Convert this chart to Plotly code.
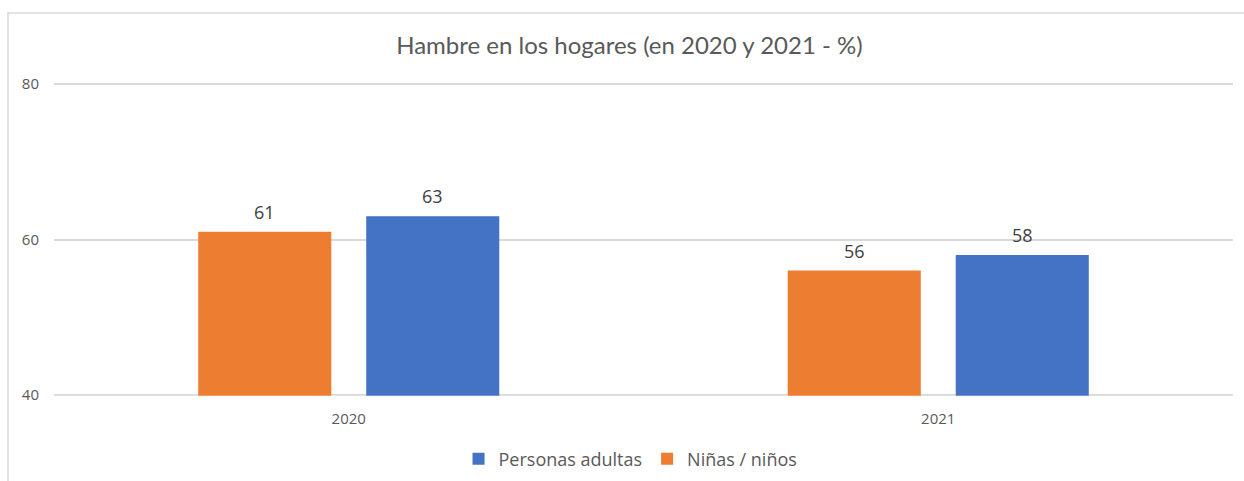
import plotly.graph_objects as go

years = ["2020", "2021"]
ninos = [61, 56]
adultos = [63, 58]
series_names = ["Niñas / niños", "Personas adultas"]
colors = ["#ED7D31", "#4472C4"]
y_ticks = [40, 60, 80]
y_range = [39.6, 80.4]

W, H = 1244, 481
ml, mr, mt, mb = 54, 11, 81, 83
pw, ph = W - ml - mr, H - mt - mb

fig = go.Figure()
offsets = [-84, 84]
for name, vals, col, off in zip(series_names, [ninos, adultos], colors, offsets):
    fig.add_trace(go.Bar(
        x=years, y=vals, name=name, marker=dict(color=col, line=dict(width=0)),
        hoverinfo="none",
    ))
    for i, v in enumerate(vals):
        fig.add_annotation(x=i, y=v, xref="x", yref="y", text=str(v), showarrow=False, xshift=off,
                           yanchor="bottom", yshift=6,
                           font=dict(family="Open Sans, sans-serif", size=18, color="#404040"))

# mask bar parts below the axis minimum (bars start at the 40 line)
fig.add_shape(type="rect", xref="paper", yref="y", x0=0, x1=1,
              y0=y_range[0] - 1, y1=min(y_ticks) - 0.1,
              fillcolor="white", line=dict(width=0), layer="above")

# outer chart border (left/top visible)
bx0 = (8 - ml) / pw
by1 = (H - 13 - mb) / ph
fig.add_shape(type="rect", xref="paper", yref="paper",
              x0=bx0, x1=(W + 20 - ml) / pw, y0=(-40 - mb) / ph, y1=by1,
              line=dict(color="#d9d9d9", width=1.5), layer="below")

fig.update_layout(
    width=W, height=H, margin=dict(l=ml, r=mr, t=mt, b=mb, autoexpand=False),
    paper_bgcolor="white", plot_bgcolor="white",
    title=dict(text="Hambre en los hogares (en 2020 y 2021 - %)",
               x=0.506, xanchor="center", y=(H - 46) / H, yanchor="middle",
               font=dict(family="Lato, sans-serif", size=24, color="#595959")),
    barmode="group", bargap=0.43, bargroupgap=0.208,
    showlegend=True,
    legend=dict(orientation="h", x=0.489, xanchor="center", y=(H - 459) / H,
                yref="container", yanchor="middle", traceorder="reversed",
                font=dict(family="Open Sans, sans-serif", size=18, color="#595959"),
                itemwidth=30),
    xaxis=dict(type="category", categoryorder="array", categoryarray=years,
               range=[-0.5, len(years) - 0.5],
               showline=False, ticks="", ticklabelstandoff=10,
               tickfont=dict(family="Open Sans, sans-serif", size=15, color="#595959")),
    yaxis=dict(range=y_range, tickvals=y_ticks, showgrid=True, gridcolor="#d9d9d9", gridwidth=1.5,
               zeroline=False, showline=False, ticks="", ticklabelstandoff=14,
               tickfont=dict(family="Open Sans, sans-serif", size=15, color="#595959")),
)

fig.write_html("out.html", config={"displayModeBar": False},
               post_script="document.body.style.margin='0';")
